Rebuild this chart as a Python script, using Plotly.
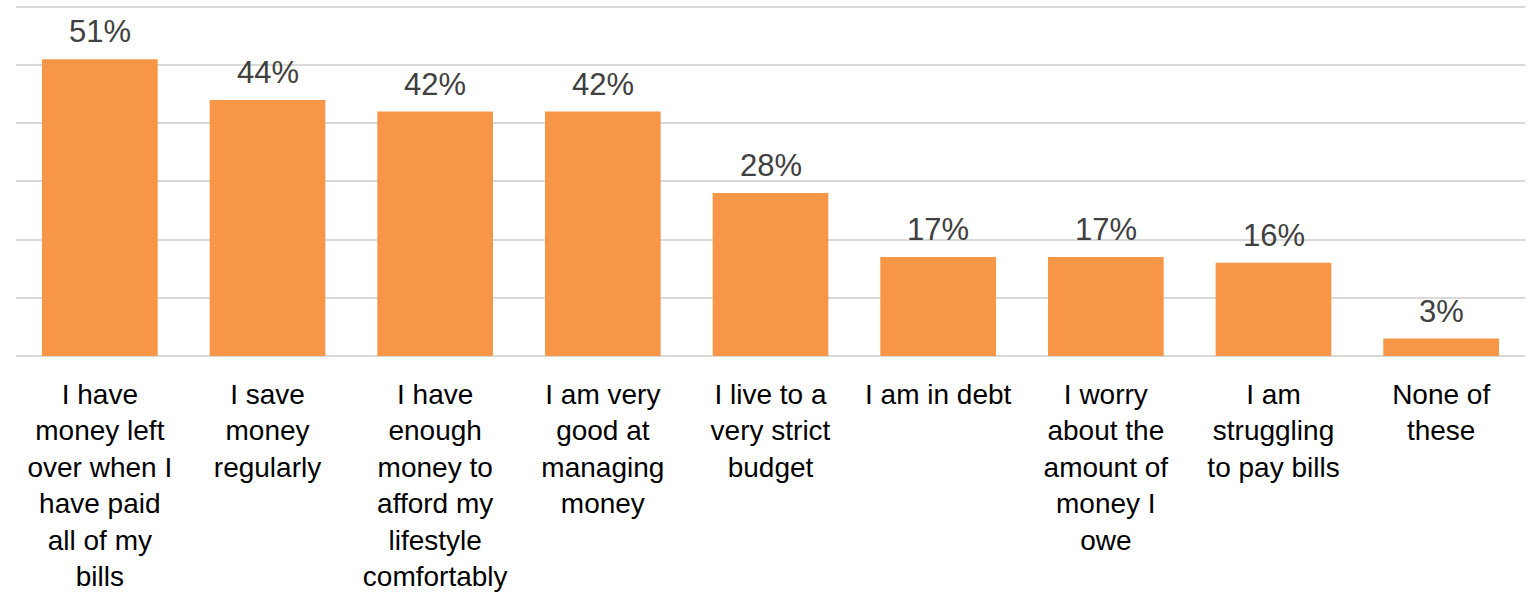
import plotly.graph_objects as go

# Survey statements (x categories), shares of respondents (%)
categories = [
    "I have<br>money left<br>over when I<br>have paid<br>all of my<br>bills",
    "I save<br>money<br>regularly",
    "I have<br>enough<br>money to<br>afford my<br>lifestyle<br>comfortably",
    "I am very<br>good at<br>managing<br>money",
    "I live to a<br>very strict<br>budget",
    "I am in debt",
    "I worry<br>about the<br>amount of<br>money I<br>owe",
    "I am<br>struggling<br>to pay bills",
    "None of<br>these",
]
values = [51, 44, 42, 42, 28, 17, 17, 16, 3]
y_ticks = [0, 10, 20, 30, 40, 50, 60]

FONT = "Liberation Sans, Arial, sans-serif"
BAR_COLOR = "#F79646"
GRID_COLOR = "#D9D9D9"

fig = go.Figure(
    go.Bar(
        x=list(range(len(categories))),
        y=values,
        marker=dict(color=BAR_COLOR, line=dict(width=0)),
        hoverinfo="skip",
    )
)

# Value labels above each bar
for i, v in enumerate(values):
    fig.add_annotation(
        x=i, y=v, xref="x", yref="y",
        text=f"{v}%",
        showarrow=False,
        yanchor="bottom",
        yshift=8,
        font=dict(family=FONT, size=31, color="#404040"),
    )

fig.update_layout(
    width=1538,
    height=595,
    margin=dict(l=16, r=13, t=5, b=239, autoexpand=False),
    paper_bgcolor="white",
    plot_bgcolor="white",
    bargap=0.31,
    showlegend=False,
    xaxis=dict(
        tickmode="array",
        tickvals=list(range(len(categories))),
        ticktext=categories,
        range=[-0.5, len(categories) - 0.5],
        showgrid=False,
        zeroline=False,
        showline=False,
        ticks="",
        tickangle=0,
        automargin=False,
        ticklabelstandoff=19,
        tickfont=dict(family=FONT, size=28, color="#000000"),
    ),
    yaxis=dict(
        range=[0, 60.3],
        tickvals=y_ticks,
        showticklabels=False,
        automargin=False,
        showgrid=True,
        gridcolor=GRID_COLOR,
        gridwidth=1.5,
        zeroline=True,
        zerolinecolor=GRID_COLOR,
        zerolinewidth=2,
        showline=False,
    ),
)

fig.write_html("out.html")
